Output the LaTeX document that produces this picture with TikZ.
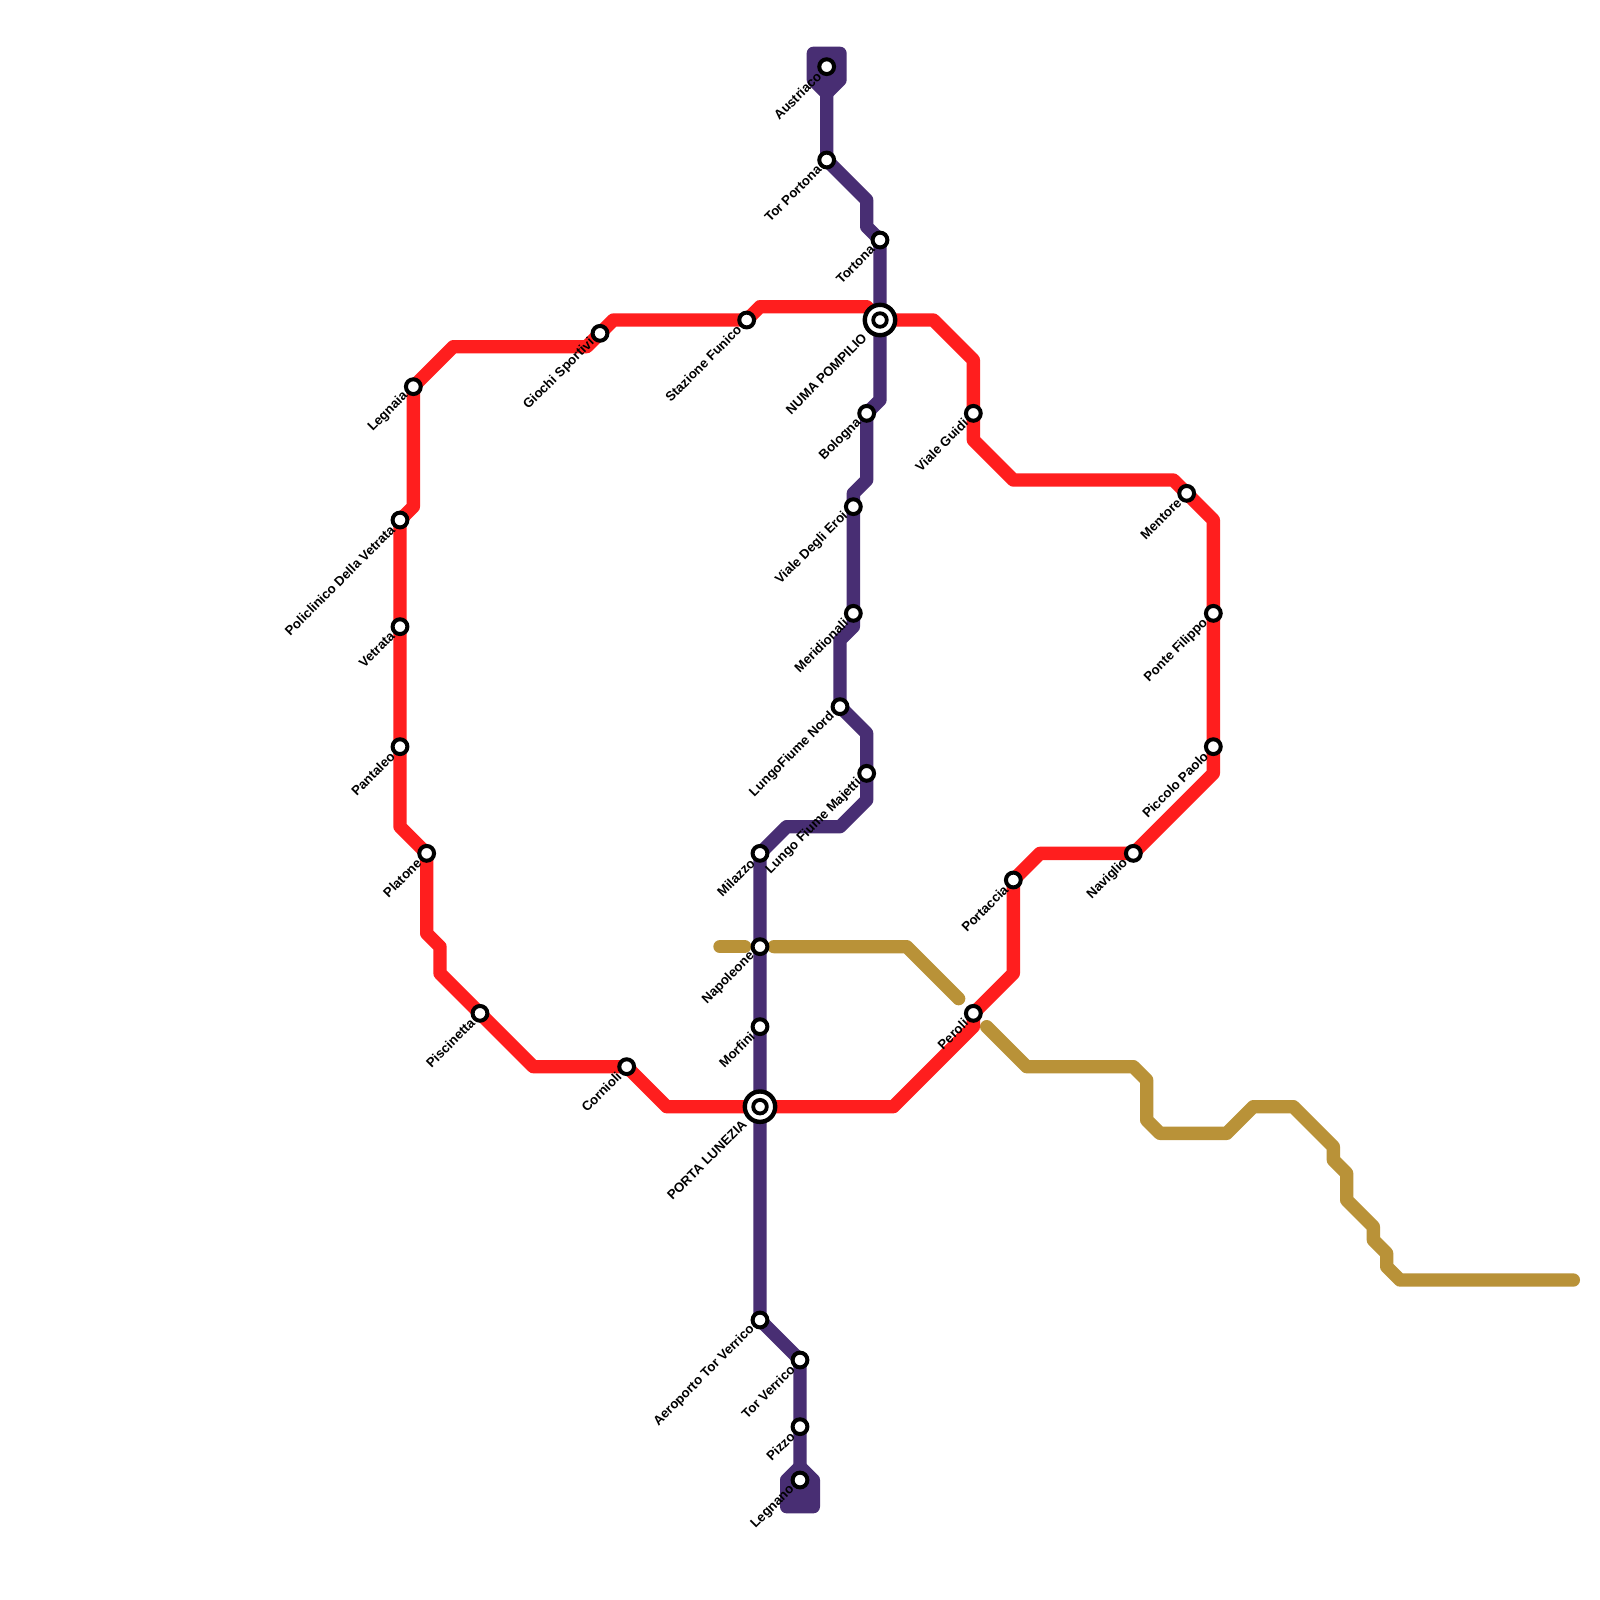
\documentclass[tikz,border=0pt]{standalone}
\usepackage{fontspec}
\setmainfont{Liberation Sans}
\pgfdeclarelayer{lines}
\pgfsetlayers{lines,main}
\definecolor{redline}{RGB}{255,30,30}
\definecolor{purpleline}{RGB}{72,46,115}
\definecolor{goldline}{RGB}{185,146,56}
\tikzset{
  metro/.style={line width=6.6667pt,line join=round,line cap=round},
  stop/.style={circle,draw=black,fill=white,line width=2pt,minimum size=7.4pt,inner sep=0pt},
  hub/.style={circle,draw=black,fill=white,line width=2.2pt,minimum size=15.2pt,inner sep=0pt},
  hubcore/.style={circle,draw=black,fill=white,line width=1.9pt,minimum size=6.8pt,inner sep=0pt},
  lbl/.style={font=\bfseries\fontsize{6.6pt}{7pt}\selectfont,rotate=45,anchor=east,inner sep=0pt,text=black},
}
\newcommand{\stopat}[4]{\node[stop] (#1) at (#2,#3) {};\node[lbl] (#1-l) at ([shift={(-0.55,0.55)}]#2,#3) {#4};}
\newcommand{\hubat}[4]{\node[hub] (#1) at (#2,#3) {};\node[hubcore] (#1-c) at (#2,#3) {};\node[lbl] (#1-l) at ([shift={(-1.15,1.15)}]#2,#3) {#4};}
\begin{document}
\begin{tikzpicture}[x=6.6667pt,y=-6.6667pt]
\useasboundingbox (0,0) rectangle (120,120);
% purple stations
\stopat{austriaco}{62}{5}{Austriaco}
\stopat{torportona}{62}{12}{Tor Portona}
\stopat{tortona}{66}{18}{Tortona}
\hubat{numa}{66}{24}{NUMA POMPILIO}
\stopat{bologna}{65}{31}{Bologna}
\stopat{eroi}{64}{38}{Viale Degli Eroi}
\stopat{meridionali}{64}{46}{Meridionali}
\stopat{lfnord}{63}{53}{LungoFiume Nord}
\stopat{majetti}{65}{58}{Lungo Fiume Majetti}
\stopat{milazzo}{57}{64}{Milazzo}
\stopat{napoleone}{57}{71}{Napoleone}
\stopat{morfini}{57}{77}{Morfini}
\hubat{lunezia}{57}{83}{PORTA LUNEZIA}
\stopat{aeroporto}{57}{99}{Aeroporto Tor Verrico}
\stopat{torverrico}{60}{102}{Tor Verrico}
\stopat{pizzo}{60}{107}{Pizzo}
\stopat{legnano}{60}{111}{Legnano}
% red stations
\stopat{legnaia}{31}{29}{Legnaia}
\stopat{giochi}{45}{25}{Giochi Sportivi}
\stopat{funico}{56}{24}{Stazione Funico}
\stopat{guidi}{73}{31}{Viale Guidi}
\stopat{mentore}{89}{37}{Mentore}
\stopat{filippo}{91}{46}{Ponte Filippo}
\stopat{paolo}{91}{56}{Piccolo Paolo}
\stopat{naviglio}{85}{64}{Naviglio}
\stopat{portaccia}{76}{66}{Portaccia}
\stopat{peroli}{73}{76}{Peroli}
\stopat{cornioli}{47}{80}{Cornioli}
\stopat{piscinetta}{36}{76}{Piscinetta}
\stopat{platone}{32}{64}{Platone}
\stopat{pantaleo}{30}{56}{Pantaleo}
\stopat{vetrata}{30}{47}{Vetrata}
\stopat{policlinico}{30}{39}{Policlinico Della Vetrata}
\begin{pgfonlayer}{lines}
\fill[white] (0,0) rectangle (120,120);
% gold
\coordinate (g1) at (54,71);
\coordinate (g2) at (55.85,71);
\coordinate (g3) at (58.05,71);
\coordinate (g4) at (71.9,74.9);
\coordinate (g5) at (74,77);
\coordinate (g6) at (118,96);
\draw[metro,goldline] (g1) -- (g2);
\draw[metro,goldline] (g3) -- (68,71) -- (g4);
\draw[metro,goldline] (g5) -- (77,80) -- (85,80) -- (86,81) -- (86,84) -- (87,85) -- (92,85) -- (94,83) -- (97,83) -- (100,86) -- (100,87) -- (101,88) -- (101,90) -- (103,92) -- (103,93) -- (104,94) -- (104,95) -- (105,96) -- (g6);
% red
\draw[metro,redline] (legnaia.center) -- (34,26) -- (44,26) -- (giochi.center) -- (46,24) -- (funico.center) -- (57,23) -- (65,23) -- (numa.center) -- (70,24) -- (73,27) -- (guidi.center) -- (73,33) -- (76,36) -- (88,36) -- (mentore.center) -- (91,39) -- (filippo.center) -- (paolo.center) -- (91,58) -- (naviglio.center) -- (78,64) -- (portaccia.center) -- (76,73) -- (peroli.center) -- (73,77) -- (67,83) -- (lunezia.center) -- (50,83) -- (cornioli.center) -- (40,80) -- (piscinetta.center) -- (33,73) -- (33,71) -- (32,70) -- (platone.center) -- (30,62) -- (pantaleo.center) -- (vetrata.center) -- (policlinico.center) -- (31,38) -- (legnaia.center);
% purple
\draw[metro,purpleline,fill=purpleline] (61,4) -- (63,4) -- (63,6) -- (62,7) -- (61,6) -- cycle;
\draw[metro,purpleline,fill=purpleline] (59,111) -- (60,110) -- (61,111) -- (61,113) -- (59,113) -- cycle;
\draw[metro,purpleline] (austriaco.center) -- (torportona.center) -- (65,15) -- (65,17) -- (tortona.center) -- (numa.center) -- (66,30) -- (bologna.center) -- (65,36) -- (64,37) -- (eroi.center) -- (meridionali.center) -- (64,47) -- (63,48) -- (lfnord.center) -- (65,55) -- (majetti.center) -- (65,60) -- (63,62) -- (59,62) -- (milazzo.center) -- (napoleone.center) -- (morfini.center) -- (lunezia.center) -- (aeroporto.center) -- (torverrico.center) -- (pizzo.center) -- (legnano.center);
\end{pgfonlayer}
\end{tikzpicture}
\end{document}
